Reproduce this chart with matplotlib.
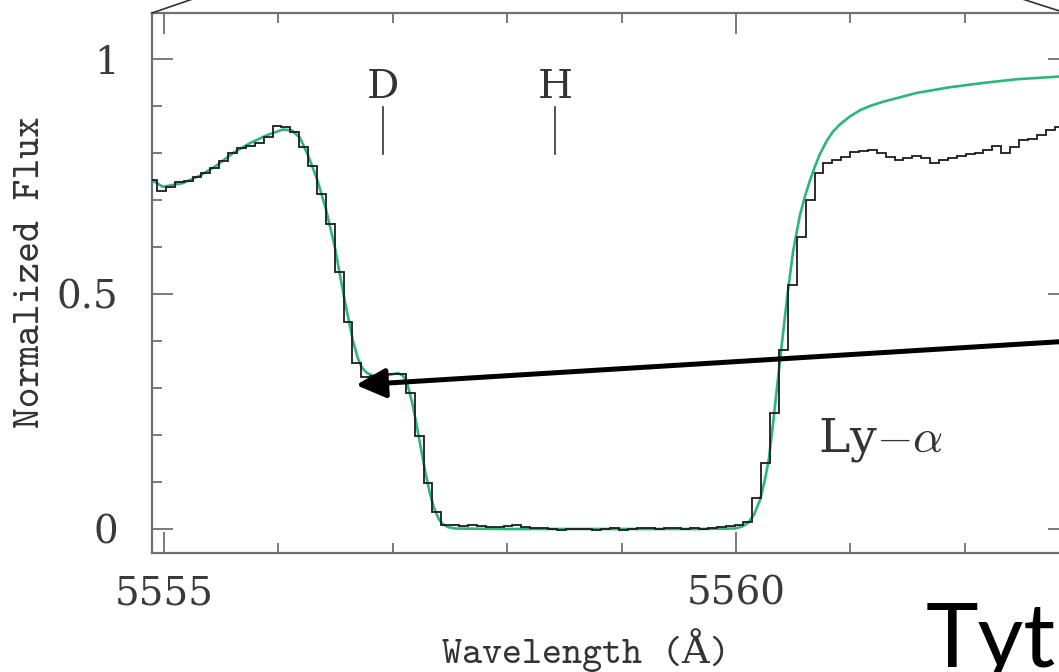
import numpy as np
import matplotlib
matplotlib.use("Agg")
import matplotlib.pyplot as plt
from matplotlib.ticker import FixedLocator, MultipleLocator, FuncFormatter
from matplotlib.lines import Line2D
from matplotlib.patches import FancyArrowPatch, ArrowStyle
from matplotlib.transforms import IdentityTransform

plt.rcParams['font.family'] = 'DejaVu Serif'
plt.rcParams['mathtext.fontset'] = 'cm'

# observed spectrum, one value per detector pixel (constant pixel width)
WAVE0 = 5554.861      # left edge of first pixel (A)
PIX = 0.07768         # pixel width (A)
flux = [0.742, 0.719, 0.728, 0.738, 0.740, 0.749, 0.757, 0.768, 0.783, 0.800,
        0.810, 0.815, 0.821, 0.834, 0.857, 0.855, 0.845, 0.813, 0.772, 0.713,
        0.649, 0.547, 0.440, 0.353, 0.323, 0.325, 0.327, 0.330, 0.330, 0.289,
        0.198, 0.098, 0.036, 0.009,
        0.008, 0.007, 0.008, 0.006, 0.005, 0.004, 0.006, 0.009, 0.005, 0.003,
        0.002, 0.001, -0.002, -0.001, 0.001, 0.000, -0.002, 0.001, 0.002, -0.003,
        0.000, 0.003, 0.002, 0.001, 0.003, 0.002, 0.000, 0.002, 0.001, 0.003,
        0.005, 0.006, 0.008,
        0.015, 0.066, 0.140, 0.247, 0.381, 0.519, 0.621, 0.700, 0.757, 0.779,
        0.785, 0.791, 0.802, 0.805, 0.806, 0.800, 0.791, 0.785, 0.789, 0.794,
        0.789, 0.779, 0.785, 0.789, 0.794, 0.798, 0.800, 0.806, 0.815, 0.800,
        0.813, 0.828, 0.830, 0.838, 0.849, 0.855]

# fitted model (green)
model_wave = [5554.895, 5554.991, 5555.166, 5555.315, 5555.463, 5555.603, 5555.752,
              5555.900, 5556.040, 5556.119, 5556.189, 5556.259, 5556.337, 5556.416,
              5556.495, 5556.573, 5556.652, 5556.696, 5556.731, 5556.774, 5556.818,
              5556.888, 5556.976, 5557.045, 5557.089, 5557.124, 5557.168, 5557.203,
              5557.247, 5557.281, 5557.325, 5557.360, 5557.404, 5557.439, 5557.483,
              5557.544, 5557.937, 5558.811, 5559.685, 5559.991, 5560.052, 5560.105,
              5560.157, 5560.210, 5560.253, 5560.288, 5560.323, 5560.358, 5560.402,
              5560.448, 5560.500, 5560.559, 5560.603, 5560.647, 5560.691, 5560.734,
              5560.794, 5560.846, 5560.909, 5560.997, 5561.084, 5561.171, 5561.285,
              5561.582, 5561.871, 5562.159, 5562.456, 5562.911]
model_flux = [0.742, 0.728, 0.736, 0.752, 0.774, 0.800, 0.821,
              0.838, 0.850, 0.848, 0.832, 0.795, 0.745, 0.680,
              0.598, 0.494, 0.400, 0.362, 0.343, 0.332, 0.327,
              0.325, 0.328, 0.332, 0.326, 0.312, 0.270, 0.228,
              0.170, 0.125, 0.075, 0.045, 0.020, 0.010, 0.004,
              0.001, 0.000, 0.000, 0.000, 0.001, 0.005, 0.013,
              0.030, 0.062, 0.105, 0.150, 0.222, 0.300, 0.396,
              0.495, 0.592, 0.668, 0.708, 0.742, 0.772, 0.798,
              0.826, 0.845, 0.861, 0.878, 0.891, 0.900, 0.909,
              0.928, 0.940, 0.949, 0.957, 0.964]

line_wave = [5556.914, 5558.418]
line_name = ['D', 'H']

W, H = 1059, 672
fig = plt.figure(figsize=(W / 100, H / 100), dpi=100)
ax = fig.add_axes([152 / W, 119 / H, 917 / W, 540 / H])

edges = WAVE0 + PIX * np.arange(len(flux) + 1)
ax.plot(model_wave, model_flux, color='#2db57a', lw=1.9, zorder=2,
        solid_joinstyle='round')
ax.stairs(flux, edges, baseline=None, color='#1c1c1c', lw=1.3, zorder=3)

# D / H markers
for w, name in zip(line_wave, line_name):
    ax.plot([w, w], [0.798, 0.898], color='#333333', lw=1.2)
    ax.text(w, 0.917, name, ha='center', va='baseline', fontsize=29, color='#333333')

ax.text(5560.717, 0.164, r'Ly$-\alpha$', ha='left', va='baseline', fontsize=34, color='#333333')

ax.set_xlim(5554.895, 5562.911)
ax.set_ylim(-0.0511, 1.0979)
ax.xaxis.set_major_locator(FixedLocator([5555, 5560]))
ax.xaxis.set_minor_locator(MultipleLocator(1))
ax.yaxis.set_major_locator(FixedLocator([0, 0.5, 1]))
ax.yaxis.set_minor_locator(MultipleLocator(0.1))
ax.yaxis.set_major_formatter(FuncFormatter(lambda v, p: '%g' % v))
ax.xaxis.set_major_formatter(FuncFormatter(lambda v, p: '%g' % v))

ax.tick_params(which='both', direction='in', top=True, right=True,
               color='#707070', width=1.3, labelsize=28, labelcolor='#3a3a3a')
ax.tick_params(which='major', length=15)
ax.tick_params(which='minor', length=7.5)
ax.tick_params(axis='x', pad=16)
ax.tick_params(axis='y', pad=24)
for s in ax.spines.values():
    s.set_color('#707070')
    s.set_linewidth(1.6)

fig.text(586 / W, 22 / H, 'Wavelength (Å)', family=['cmtt10', 'DejaVu Serif'],
         fontsize=27.5, ha='center', va='center', color='#333333')
fig.text(31 / W, (H - 272) / H, 'Normalized Flux', family=['cmtt10', 'DejaVu Serif'],
         fontsize=28.5, rotation=90, ha='center', va='center', color='#333333')

# zoom callout lines from the slide
fig.add_artist(Line2D([152 / W, 200 / W], [659 / H, 675.5 / H], transform=fig.transFigure,
                      color='#333333', lw=1.2, clip_on=False))
fig.add_artist(Line2D([1069 / W, 1016 / W], [658 / H, 675 / H], transform=fig.transFigure,
                      color='#333333', lw=1.2, clip_on=False))

# arrow pointing to the deuterium feature
arrow = FancyArrowPatch(posA=(1120, 334), posB=(356, 287), transform=IdentityTransform(),
                        arrowstyle=ArrowStyle('-|>', head_length=1.8, head_width=0.9),
                        mutation_scale=10, lw=3.6, color='black', shrinkA=0, shrinkB=0)
fig.add_artist(arrow)

fig.text(926 / W, 6 / H, 'Tyth', family='Lato', fontsize=64, color='black',
         ha='left', va='baseline')

fig.savefig('out.png', dpi=100)
